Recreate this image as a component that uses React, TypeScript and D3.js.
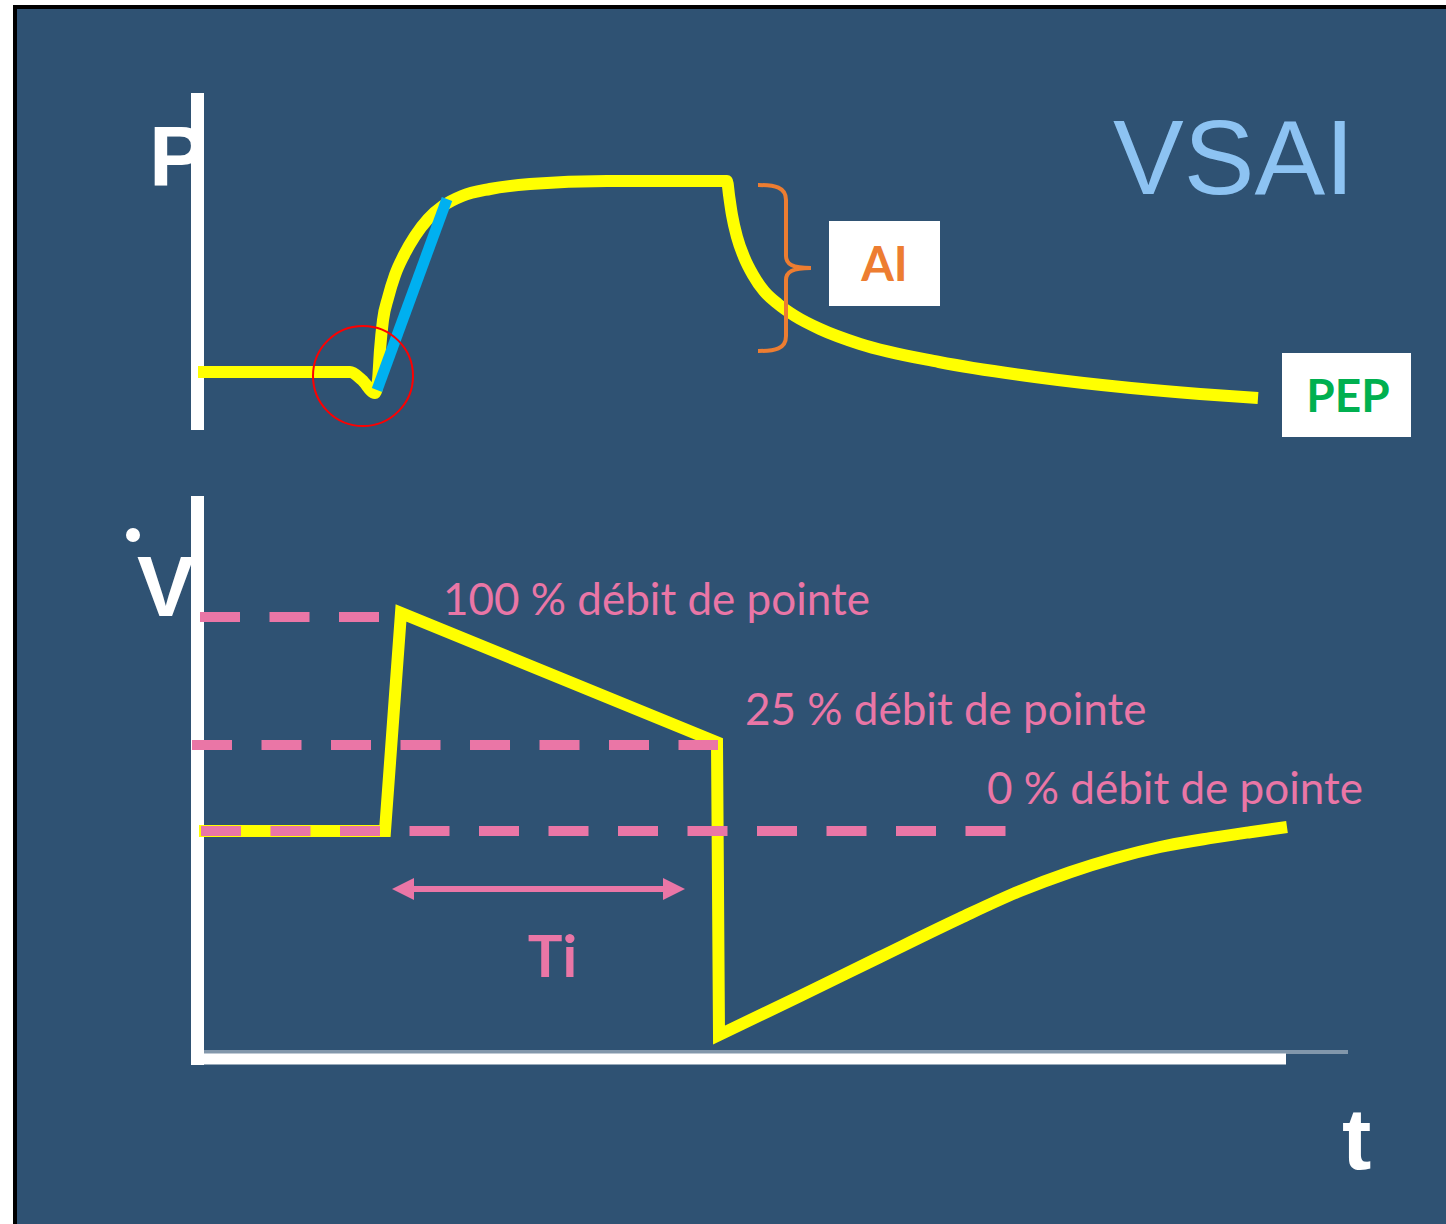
import React from 'react';
import * as d3 from 'd3';

// ---------- data (time in ms, pressure in cmH2O, flow in L/min) ----------
const pressureTime = [0, 304, 328, 354, 360, 364, 370, 380, 394, 412, 434, 460, 490, 528, 584, 664, 818, 1058, 1062, 1068, 1078, 1092, 1110, 1132, 1160, 1194, 1244, 1324, 1482, 1674, 1866, 2004, 2120];
const pressureValue = [6.8, 6.8, 6.0, 4.7, 6.0, 9.0, 12.0, 14.2, 16.5, 18.5, 20.4, 22.1, 23.4, 24.4, 25.1, 25.6, 25.9, 25.9, 24.5, 22.5, 20.3, 18.3, 16.5, 14.9, 13.6, 12.4, 11.1, 9.6, 7.8, 6.3, 5.2, 4.6, 4.2];

const slopeTime = [358, 498];
const slopeValue = [5.0, 24.1];

const flowInspTime = [2, 374, 406, 1038, 1042];
const flowInspValue = [0, 0, 54.5, 22.2, -51];
const flowExpTime = [1042, 1204, 1364, 1524, 1644, 1744, 1834, 1924, 2024, 2104, 2178];
const flowExpValue = [-51, -41.3, -31.5, -21.8, -15, -10.3, -6.8, -4, -1.8, -0.3, 1];

const levelLabels = ['100 % débit de pointe', '25 % débit de pointe', '0 % débit de pointe'];
const levelValues = [53.5, 21.5, 0];
const levelStart = [4, -12, 6];
const levelEnd = [362, 1040, 1616];

const tiStart = 388;
const tiEnd = 974;

const W = 1446;
const H = 1224;

const BG = '#2F5273';
const YELLOW = '#FFFF00';
const PINK = '#EA76A6';
const ORANGE = '#ED7D31';
const GREEN = '#00B050';
const CYAN = '#00B0F0';

export default function App() {
  const x = d3.scaleLinear().domain([0, 2300]).range([198, 1348]);
  const yP = d3.scaleLinear().domain([0, 30]).range([440, 140]);
  const yF = d3.scaleLinear().domain([-60, 60]).range([1071, 591]);

  const pLine = d3
    .line<number>()
    .x((_, i) => x(pressureTime[i]))
    .y((d) => yP(d))
    .curve(d3.curveMonotoneX);
  const pPath = pLine(pressureValue) || '';

  const sPath =
    d3
      .line<number>()
      .x((_, i) => x(slopeTime[i]))
      .y((d) => yP(d))(slopeValue) || '';

  const fInsp =
    d3
      .line<number>()
      .x((_, i) => x(flowInspTime[i]))
      .y((d) => yF(d))(flowInspValue) || '';
  const fExp =
    d3
      .line<number>()
      .x((_, i) => x(flowExpTime[i]))
      .y((d) => yF(d))
      .curve(d3.curveMonotoneX)(flowExpValue) || '';
  const fPath = fInsp + fExp.replace(/^M/, 'L');

  const labelPos = [
    { x: 443, y: 615 },
    { x: 745, y: 725 },
    { x: 987, y: 804 },
  ];

  const arrowY = yF(-14.5);
  const ax1 = x(tiStart);
  const ax2 = x(tiEnd);

  return (
    <div style={{ position: 'absolute', left: 0, top: 0 }}>
      <svg width={W} height={H} style={{ display: 'block' }}>
        <rect x={0} y={0} width={W} height={H} fill="#ffffff" />
        <rect x={13} y={5} width={W - 13} height={H - 5} fill="#000000" />
        <rect x={17} y={9} width={W - 17} height={H - 9} fill={BG} />

        {/* P label (behind axis) */}
        <text x={149} y={186} fontFamily="Liberation Sans, Arial, sans-serif" fontWeight="bold" fontSize={86} fill="#ffffff">P</text>
        {/* V-dot label */}
        <text x={137} y={616} fontFamily="Liberation Sans, Arial, sans-serif" fontWeight="bold" fontSize={86} fill="#ffffff">V</text>
        <circle cx={133} cy={535} r={7} fill="#ffffff" />

        {/* axes */}
        <line x1={197.5} x2={197.5} y1={93} y2={430} stroke="#ffffff" strokeWidth={13} />
        <line x1={197.5} x2={197.5} y1={496} y2={1065} stroke="#ffffff" strokeWidth={13} />
        <line x1={198} x2={1348} y1={1052} y2={1052} stroke="rgba(255,255,255,0.4)" strokeWidth={4} />
        <line x1={191} x2={1286} y1={1059} y2={1059} stroke="#ffffff" strokeWidth={11} />

        {/* VSAI */}
        <text x={1113} y={194} fontFamily="Liberation Sans, Arial, sans-serif" fontSize={106} fill="#8DC3F2">VSAI</text>

        {/* pressure curve */}
        <path d={pPath} fill="none" stroke={YELLOW} strokeWidth={12} strokeLinejoin="round" />
        {/* slope line */}
        <path d={sPath} fill="none" stroke={CYAN} strokeWidth={11} />
        {/* trigger circle */}
        <circle cx={x(330)} cy={yP(6.4)} r={50} fill="none" stroke="#FF0000" strokeWidth={2} />

        {/* AI brace */}
        <path
          d="M758,185 C775,185 786,187 786,200 L786,256 C786,264 792,268 811,268 C792,268 786,272 786,280 L786,336 C786,349 775,351 758,351"
          fill="none"
          stroke={ORANGE}
          strokeWidth={4}
        />
        <rect x={829} y={221} width={111} height={85} fill="#ffffff" />
        <text x={884.5} y={281} textAnchor="middle" fontFamily="Lato, sans-serif" fontWeight="bold" fontSize={47} fill={ORANGE}>AI</text>

        {/* PEP */}
        <rect x={1282} y={353} width={129} height={84} fill="#ffffff" />
        <text x={1348} y={412} textAnchor="middle" fontFamily="Lato, sans-serif" fontWeight="bold" fontSize={46} fill={GREEN}>PEP</text>

        {/* flow curve */}
        <path d={fPath} fill="none" stroke={YELLOW} strokeWidth={12} strokeLinejoin="miter" />

        {/* reference dashed lines */}
        {levelValues.map((v, i) => (
          <line
            key={'lv' + i}
            x1={x(levelStart[i])}
            x2={x(levelEnd[i])}
            y1={yF(v)}
            y2={yF(v)}
            stroke={PINK}
            strokeWidth={10}
            strokeDasharray="40 29.5"
          />
        ))}
        {levelLabels.map((t, i) => (
          <text key={'ll' + i} x={labelPos[i].x} y={labelPos[i].y} fontFamily="Lato, sans-serif" fontSize={44} fill={PINK}>
            {t}
          </text>
        ))}

        {/* Ti arrow */}
        <line x1={ax1 + 18} x2={ax2 - 18} y1={arrowY} y2={arrowY} stroke={PINK} strokeWidth={6} />
        <path d={`M${ax1},${arrowY} L${ax1 + 22},${arrowY - 11} L${ax1 + 22},${arrowY + 11} Z`} fill={PINK} />
        <path d={`M${ax2},${arrowY} L${ax2 - 22},${arrowY - 11} L${ax2 - 22},${arrowY + 11} Z`} fill={PINK} />
        <text x={x(709)} y={yF(-36.5)} textAnchor="middle" fontFamily="Lato, sans-serif" fontWeight="bold" fontSize={58} fill={PINK}>Ti</text>

        {/* t label */}
        <text x={1342} y={1169} fontFamily="Liberation Sans, Arial, sans-serif" fontWeight="bold" fontSize={88} fill="#ffffff">t</text>
      </svg>
    </div>
  );
}
